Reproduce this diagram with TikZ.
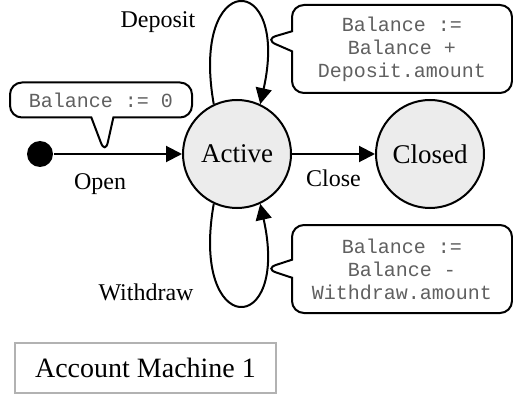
\documentclass[tikz,border=0pt]{standalone}
\usepackage{fontspec}
\setmainfont{Liberation Serif}
\setmonofont{Liberation Mono}
\usetikzlibrary{automata,positioning,arrows.meta,shapes.callouts}

\begin{document}
\begin{tikzpicture}[x=0.5pt,y=-0.5pt,node distance=96.5pt,on grid,line width=1pt,
	>={Triangle[length=8pt,width=8pt]},
	every state/.style={draw,fill=gray!15,minimum size=54pt,inner sep=0pt,font=\fontsize{13.5}{16}\selectfont},
	lbl/.style={font=\fontsize{12}{14}\selectfont},
	note/.style={rectangle callout,draw,fill=white,rounded corners=6pt,align=center,
		text=gray!75!black,font=\ttfamily\fontsize{10}{11.5}\selectfont}]
	\useasboundingbox (0,0) rectangle (513,395);

	\node[state](active) at (237,154) {Active};
	\node[state](closed)[right of=active]{Closed};
	\node[circle,fill=black,minimum size=13pt,inner sep=0pt](init)[left of=active,node distance=98.5pt]{};

	\draw[->] (init) -- node[lbl,below=6pt,pos=0.36]{Open} coordinate[pos=0.4](opentip) (active);
	\draw[->] (active) -- node[lbl,below=4pt]{Close} (closed);
	\draw[->] (active.115) .. controls +(-24,-135) and +(30,-135) .. coordinate[pos=0.8](deptip) (active.65);
	\draw[->] (active.245) .. controls +(-24,135) and +(30,135) .. coordinate[pos=0.8](wdrtip) (active.295);

	\node[lbl](deplbl) at (158,22) {Deposit};
	\node[lbl](wdrlbl) at (146,292) {Withdraw};

	% annotations on the transitions
	\node[note,minimum width=91pt,minimum height=17.5pt,callout pointer width=11pt,
		callout absolute pointer=(opentip)](opennote) at (101,100) {Balance := 0};
	\node[note,minimum width=110pt,minimum height=44pt,callout pointer width=10pt,
		callout absolute pointer=(deptip)](depnote) at (402,49) {Balance :=\\Balance +\\Deposit.amount};
	\node[note,minimum width=110pt,minimum height=44pt,callout pointer width=9pt,
		callout absolute pointer=(wdrtip)](wdrnote) at (402,269) {Balance :=\\Balance -\\Withdraw.amount};

	\node[draw=gray!60,line width=0.6pt,minimum width=130.5pt,minimum height=25pt,
		font=\fontsize{14}{16}\selectfont](title) at (145.5,368) {Account Machine 1};
\end{tikzpicture}
\end{document}
